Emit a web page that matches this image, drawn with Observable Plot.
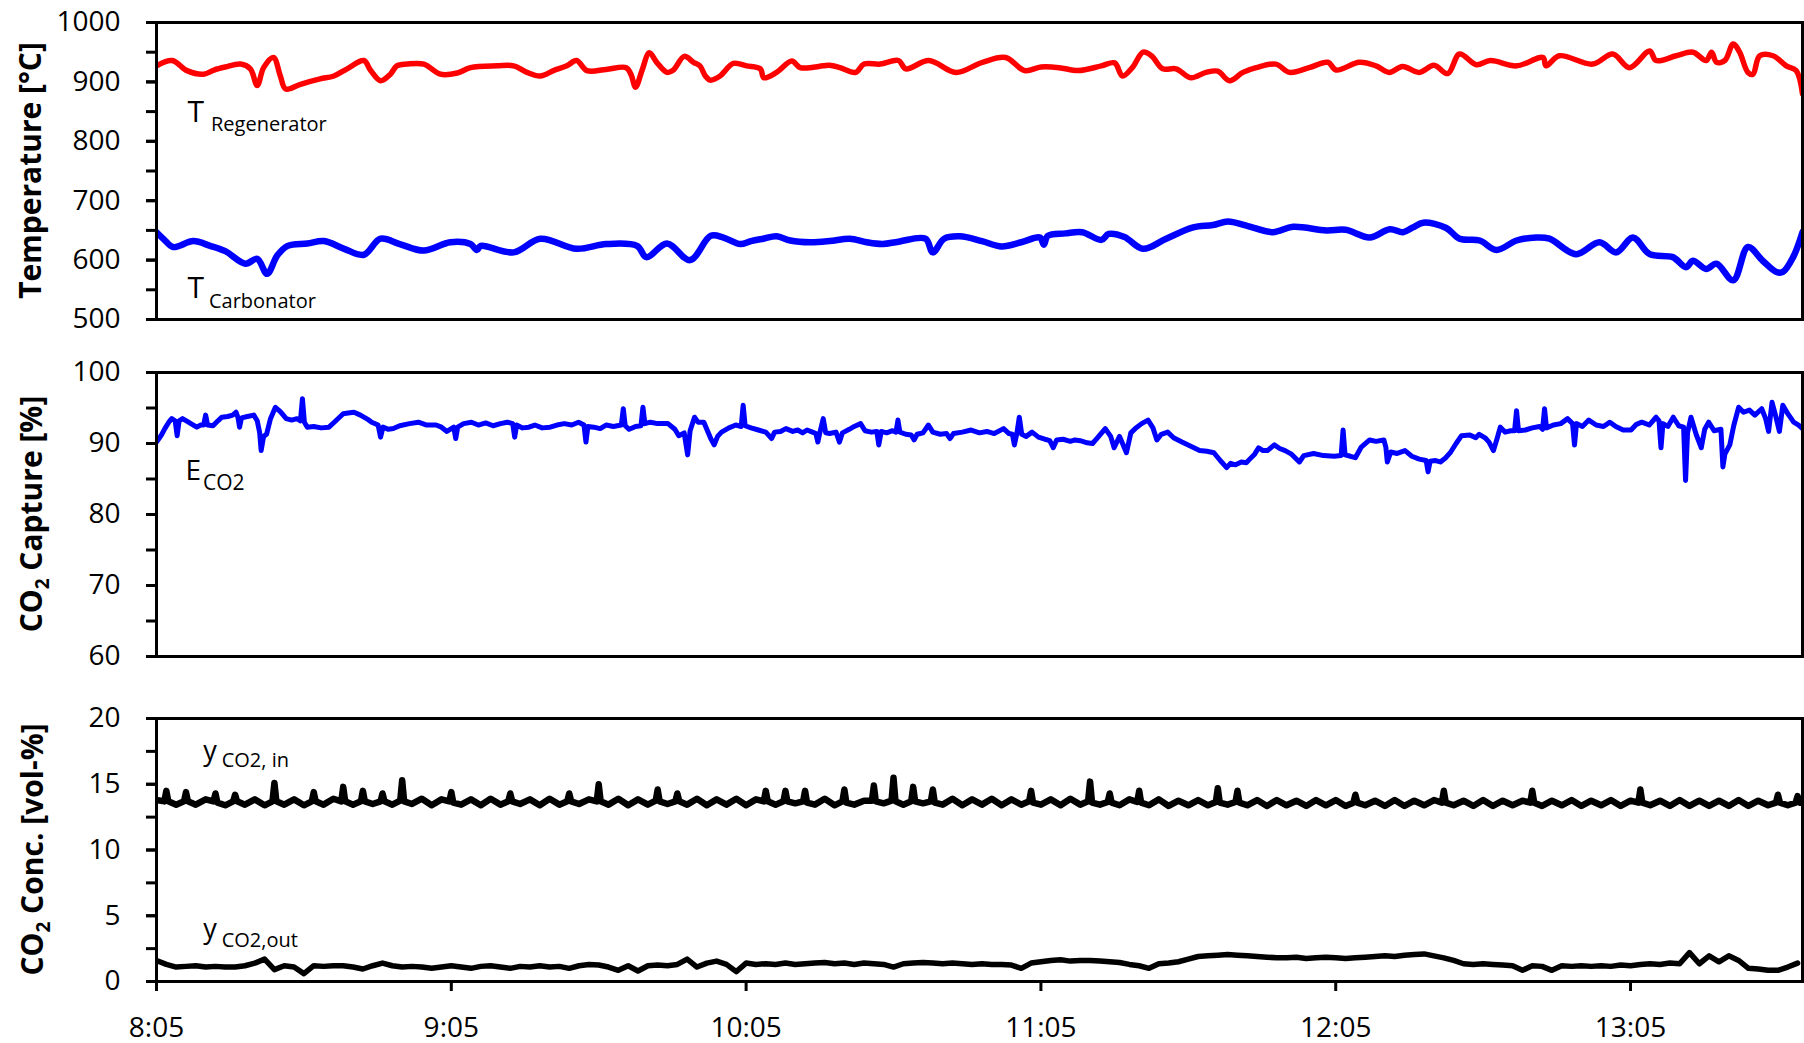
<!DOCTYPE html>
<html>
<head>
<meta charset="utf-8">
<script src="https://cdn.jsdelivr.net/npm/d3@7"></script>
<script src="https://cdn.jsdelivr.net/npm/@observablehq/plot@0.6"></script>
<style>
  body { margin: 0; background: #ffffff; }
  #chart { width: 1804px; }
  #chart svg { display: block; }
</style>
</head>
<body>
<div id="chart"></div>
<script>
// ---------- DATA (minutes after 8:05) ----------
const xDomainMin = [0, 335];
const timeTickMin = [0, 60, 120, 180, 240, 300];
const timeTickLabels = ["8:05", "9:05", "10:05", "11:05", "12:05", "13:05"];

// T Regenerator [°C]
const regenMin = [0,3.2,6.2,9.6,11.7,14,17.1,19.1,20.5,21.8,
  23.8,25.2,26.3,29.3,33.3,36.1,38.8,42.2,43.6,45.6,
  47.6,48.9,51,54.4,57.8,61.2,63.9,69.3,72.7,75.4,
  78.1,80.8,83.5,85.5,87.6,91.5,95.6,96.6,97.5,98.8,
  100.3,101.8,103.9,105.2,107.4,109.3,110.6,111.7,112.7,114.7,
  117.4,120.1,122.9,123.6,126.2,129.3,131,135.7,137,139.1,
  142.3,144,147.3,151,152.5,157.2,162.7,168.1,172.8,176.7,
  180,183.7,187.6,192.3,195,196.6,198.6,200.8,202.5,204.8,
  207.5,210.5,213.6,216,218.4,221.1,223.8,227.8,230.6,234.6,
  238.4,240.1,244.8,248.2,250.9,253.6,257,260,262.8,265.2,
  268.6,271.5,276.8,282.2,282.8,285.5,292.3,296.4,299.8,303.9,
  305.2,309.3,312.7,315.4,316.5,317.5,319.2,320.9,322.2,323.9,
  324.9,326.3,329,331.7,333.7,335];
const regenTemp = [927,936,919,913,920,925,930,922,894,924,
  941,910,888,896,905,910,922,936,919,902,
  913,927,930,930,913,915,924,927,927,916,
  910,919,927,936,919,921,924,912,891,919,
  949,933,916,920,943,933,927,910,903,910,
  931,927,922,907,916,935,924,927,928,924,
  916,930,930,936,922,936,916,933,941,919,
  925,924,919,927,932,910,924,950,944,922,
  922,907,916,918,902,916,924,930,916,924,
  933,920,933,927,916,926,916,928,914,947,
  929,936,927,941,927,944,930,947,924,952,
  936,944,950,936,950,933,936,964,950,916,
  913,944,944,927,919,880];

// T Carbonator [°C]
const carbMin = [0,1.5,3.4,7.5,10.9,14,18.1,20.5,22.5,24.6,
  26.7,30.7,34.1,38.2,42.2,45.6,49.5,54.4,59.8,63.9,
  65.2,66,72.7,78.1,85.5,91.5,97.8,99.7,103.9,108.6,
  112.8,115.4,118.8,121,123.5,126.2,129,133,137,141.1,
  144.5,147.8,151,156.5,158,160.3,163.5,168,172,176,
  179.8,180.6,181.4,185,188.4,192.3,193.8,197,200.8,205.5,
  211,215,218.1,221.8,227.2,231.3,238.1,242,246.9,251,
  253.7,255.7,257.8,262.5,265.2,269.3,272.7,276.8,280.8,283.5,
  288.9,293.7,297.1,300.5,303.9,308.6,311.3,312.7,315.4,317.5,
  320.9,323.9,326.9,329.7,331,333.1,335];
const carbTemp = [647,635,622,632,624,615,594,602,577,608,
  624,628,632,619,609,636,627,616,630,627,
  617,624,613,636,619,627,624,605,628,600,
  641,638,627,632,636,640,633,630,632,636,
  630,627,631,636,613,636,640,632,623,630,
  638,626,641,645,647,634,644,639,619,636,
  655,659,665,658,647,656,650,651,638,652,
  647,655,663,654,636,633,617,633,638,636,
  610,630,613,638,610,605,588,599,585,594,
  566,622,599,580,580,605,647];

// E CO2 capture [%]  as [minute, value]
const captureSeries = [
  [0,90.2],[1,91.2],[1.7,92.1],[2.5,93.0],[3.1,93.5],[3.8,93.2],[4.2,91.1],[4.6,93.2],[5.3,93.5],[6.5,93.0],
  [7.5,92.6],[8.2,92.3],[9,92.6],[9.6,92.6],[10,94.0],[10.4,92.6],[11.5,92.5],[12.5,93.2],[13.3,93.7],[14.5,93.8],
  [15.5,94.0],[16.2,94.4],[16.6,93.6],[16.9,92.3],[17.3,93.6],[18.5,93.8],[19.8,94.0],[20.5,93.2],[21,91.5],[21.3,89.0],
  [21.8,91.0],[22.4,91.3],[23.2,93.5],[24.2,95.1],[25.2,94.5],[26.4,93.5],[27.5,93.3],[28.6,93.5],[29.3,93.2],[29.7,96.3],
  [30.1,93.0],[30.7,92.3],[32,92.4],[33.5,92.2],[35.1,92.3],[36.5,93.2],[38,94.2],[39,94.3],[40.2,94.4],[41.5,94.0],
  [43,93.4],[43.8,93.0],[45.1,92.6],[45.6,90.9],[46.1,92.3],[47.2,92.0],[48.2,92.1],[49.5,92.5],[51.5,92.8],[53.3,93.0],
  [55,92.6],[56.9,92.6],[58,92.3],[59.1,91.7],[60.5,92.3],[60.9,90.7],[61.3,92.3],[62.5,92.8],[64.1,93.0],[65.5,92.6],
  [67,92.9],[68.5,92.5],[70,92.8],[71.4,93.0],[72.5,92.8],[72.9,90.9],[73.3,92.6],[74.5,92.2],[75.8,92.3],[77,92.6],
  [78.5,92.2],[80.1,92.3],[81.5,92.6],[83,92.8],[84.5,92.6],[85.9,93.0],[87,92.6],[87.4,90.2],[87.8,92.4],[89,92.3],
  [90.3,92.1],[91.5,92.6],[93,92.4],[94.6,92.6],[95,94.9],[95.4,92.5],[96.2,92.0],[97.5,92.4],[98.6,92.5],[99,95.1],
  [99.4,92.8],[100.5,93.0],[102,92.8],[104.1,92.8],[105.5,92.0],[106.3,91.1],[107.4,91.5],[108.1,88.4],[108.6,91.8],[109.5,93.7],
  [110.2,93.0],[111.4,93.0],[112.8,90.7],[113.5,89.8],[114.2,91.0],[115,91.6],[116.5,92.2],[117.9,92.6],[119,92.4],[119.4,95.4],
  [119.8,92.5],[121,92.2],[122.5,91.9],[124,91.6],[125.2,90.7],[125.8,91.6],[127,91.7],[128.1,92.1],[129.5,91.7],[130.5,91.9],
  [131.5,91.5],[132.4,91.9],[133.5,91.6],[134.2,91.4],[134.6,90.2],[135,91.5],[135.7,93.5],[136.2,91.5],[137,91.4],[138.3,91.6],
  [139,90.2],[139.6,91.5],[141,92.0],[142,92.4],[143.3,92.8],[144.2,91.8],[145.5,91.6],[146.6,91.7],[147,89.8],[147.5,91.7],
  [148.6,91.5],[149.8,91.8],[150.5,91.6],[150.9,93.3],[151.3,91.6],[152.5,91.3],[153.6,91.2],[154.2,90.5],[154.8,91.3],[156,91.5],
  [157.1,92.6],[158,91.6],[159.5,91.3],[160.8,91.4],[161.5,90.7],[162.2,91.4],[164,91.6],[165.8,91.9],[167.5,91.5],[169,91.7],
  [170.5,91.4],[172.4,92.1],[173.5,91.4],[174.2,91.3],[174.6,89.8],[175.1,91.4],[175.6,93.7],[176.1,91.3],[177,91.0],[178.2,91.6],
  [179.5,90.9],[180.8,90.6],[181.8,90.4],[182.5,89.4],[183.2,90.5],[184.5,90.6],[186,90.3],[186.9,90.5],[188,90.4],[189.4,90.1],
  [190.5,90.0],[191.5,90.8],[193.1,92.1],[194.2,91.0],[194.9,89.4],[196,91.0],[197.4,88.7],[198.3,91.5],[199.2,92.1],[200.5,92.8],
  [201.8,93.3],[202.8,92.2],[203.6,90.5],[204.5,91.3],[205.8,91.6],[207,90.8],[208.7,90.2],[210.5,89.6],[212.3,89.0],[213.8,88.9],
  [215.2,88.7],[216.5,87.6],[217.8,86.6],[218.6,87.2],[219.6,87.0],[220.8,87.4],[221.8,87.3],[222.5,87.8],[223.5,88.5],[224.3,89.4],
  [225.2,89.0],[226.1,89.0],[227.5,89.8],[228.6,89.3],[229.7,89.0],[231,88.5],[232.6,87.4],[233.5,88.3],[235.5,88.6],[237.5,88.3],
  [239.7,88.2],[241.1,88.3],[241.5,91.9],[241.9,88.4],[243,88.2],[244,88.0],[245.2,89.5],[246.9,90.5],[248.2,90.3],[249.8,90.5],
  [250.2,89.5],[250.5,87.4],[251.2,88.8],[252.5,88.6],[254.1,89.0],[255.5,88.2],[257,87.8],[258.4,87.6],[258.8,86.0],[259.2,87.5],
  [260.3,87.6],[261.3,87.4],[262.4,88.0],[263.4,88.8],[264.5,90.0],[265.6,91.1],[267.3,91.2],[268.5,90.8],[269.2,91.3],[270.4,90.8],
  [271.2,90.2],[272.1,89.0],[272.8,90.6],[273.5,92.3],[274.5,91.6],[275.6,91.8],[276.4,91.8],[276.8,94.6],[277.2,91.8],[278.6,91.9],
  [280,92.2],[281.5,92.4],[282.1,92.0],[282.5,94.9],[282.9,92.2],[284.3,92.6],[285.8,92.8],[287.2,93.5],[288.2,92.8],[288.6,89.8],
  [289,92.8],[290.2,92.4],[291.5,93.3],[293,92.6],[294.5,92.4],[295.8,93.0],[297,92.4],[298.5,91.9],[300.1,91.9],[301.2,92.7],
  [302.3,93.0],[303.8,92.6],[305.2,93.7],[305.8,93.2],[306.2,89.4],[306.6,92.8],[307.6,92.4],[308.7,93.7],[309.8,92.5],[310.8,92.3],
  [311.2,84.8],[311.6,91.5],[312.3,93.7],[313.4,91.2],[314.4,89.4],[315.1,92.0],[315.9,93.0],[317,91.8],[318.4,92.0],[318.8,86.7],
  [319.2,88.5],[320.2,89.8],[321,92.5],[322,95.1],[323,94.4],[324.2,94.7],[325.3,94.0],[326.7,94.9],[327.5,93.5],[328.1,91.7],
  [328.8,95.8],[329.5,94.0],[330.3,91.7],[331,95.4],[332,94.2],[333.2,93.0],[334.2,92.6],[335,92.1]
];

// y CO2, in [vol-%]  as [minute, value]
const co2InSeries = [
  [0,13.8],[1.6,13.7],[2,14.5],[2.4,13.7],[4,13.45],[5.6,13.7],[6,14.4],[6.4,13.7],[8,13.45],[10,13.85],
  [11.6,13.7],[12,14.3],[12.4,13.6],[14,13.4],[15.6,13.7],[16,14.2],[16.4,13.7],[18,13.45],[20,13.85],[22,13.4],
  [23.6,13.7],[24,15.1],[24.4,13.7],[26,13.45],[28,13.85],[30,13.4],[31.6,13.7],[32,14.4],[32.4,13.7],[34,13.45],
  [36,13.9],[37.6,13.7],[38,14.8],[38.4,13.7],[40,13.45],[41.6,13.7],[42,14.5],[42.4,13.7],[44,13.5],[45.6,13.7],
  [46,14.3],[46.4,13.7],[48,13.45],[49.6,13.75],[50,15.3],[50.4,13.7],[52,13.5],[54,13.9],[56,13.4],[58,13.85],
  [59.6,13.7],[60,14.4],[60.4,13.6],[62,13.45],[64,13.85],[66,13.4],[68,13.9],[70,13.45],[71.6,13.7],[72,14.3],
  [72.4,13.7],[74,13.5],[76,13.85],[78,13.4],[80,13.9],[82,13.45],[83.6,13.7],[84,14.3],[84.4,13.7],[86,13.5],
  [88,13.85],[89.6,13.7],[90,15.0],[90.4,13.7],[92,13.45],[94,13.9],[96,13.4],[98,13.85],[100,13.45],[101.6,13.75],
  [102,14.6],[102.4,13.7],[104,13.5],[105.6,13.7],[106,14.3],[106.4,13.7],[108,13.45],[110,13.9],[112,13.4],[114,13.85],
  [116,13.45],[118,13.9],[120,13.4],[122,13.85],[123.6,13.7],[124,14.5],[124.4,13.7],[126,13.45],[127.6,13.7],[128,14.5],
  [128.4,13.7],[130,13.55],[131.6,13.7],[132,14.5],[132.4,13.6],[134,13.45],[136,13.9],[138,13.4],[139.6,13.7],[140,14.6],
  [140.4,13.6],[142,13.45],[144,13.75],[145.6,13.75],[146,14.9],[146.4,13.7],[148,13.55],[149.6,13.75],[150,15.5],[150.4,13.7],
  [152,13.45],[153.6,13.7],[154,14.8],[154.4,13.7],[156,13.55],[157.6,13.7],[158,14.6],[158.4,13.6],[160,13.45],[162,13.9],
  [164,13.4],[166,13.85],[168,13.45],[170,13.9],[172,13.4],[174,13.85],[176,13.45],[177.6,13.7],[178,14.5],[178.4,13.6],
  [180,13.45],[182,13.85],[184,13.4],[186,13.9],[188,13.45],[189.6,13.7],[190,15.2],[190.4,13.6],[192,13.45],[193.6,13.65],
  [194,14.3],[194.4,13.6],[196,13.4],[198,13.85],[199.6,13.65],[200,14.5],[200.4,13.6],[202,13.4],[204,13.85],[206,13.35],
  [208,13.75],[210,13.4],[212,13.8],[214,13.4],[215.6,13.65],[216,14.7],[216.4,13.6],[218,13.45],[219.6,13.65],[220,14.5],
  [220.4,13.6],[222,13.4],[224,13.8],[226,13.35],[228,13.8],[230,13.4],[232,13.75],[234,13.35],[236,13.8],[238,13.4],
  [240,13.8],[242,13.35],[243.6,13.6],[244,14.2],[244.4,13.6],[246,13.4],[248,13.75],[250,13.35],[252,13.8],[254,13.35],
  [256,13.75],[258,13.4],[260,13.8],[261.6,13.6],[262,14.5],[262.4,13.6],[264,13.4],[266,13.75],[268,13.35],[270,13.8],
  [272,13.35],[274,13.75],[276,13.4],[278,13.75],[279.6,13.6],[280,14.5],[280.4,13.6],[282,13.35],[284,13.75],[286,13.4],
  [288,13.8],[290,13.35],[292,13.75],[294,13.4],[296,13.8],[298,13.35],[300,13.75],[301.6,13.6],[302,14.6],[302.4,13.6],
  [304,13.4],[306,13.75],[308,13.35],[310,13.8],[312,13.35],[314,13.75],[316,13.35],[318,13.75],[320,13.35],[322,13.8],
  [324,13.35],[326,13.75],[328,13.4],[329.6,13.6],[330,14.2],[330.4,13.6],[332,13.4],[333.6,13.6],[334,14.1],[334.4,13.6],
  [335,13.6]
];

// y CO2, out [vol-%] on a 2-minute grid
const concMin = [0,2,4,6,8,10,12,14,16,18,20,22,24,26,28,30,32,34,36,38,
  40,42,44,46,48,50,52,54,56,58,60,62,64,66,68,70,72,74,76,78,
  80,82,84,86,88,90,92,94,96,98,100,102,104,106,108,110,112,114,116,118,
  120,122,124,126,128,130,132,134,136,138,140,142,144,146,148,150,152,154,156,158,
  160,162,164,166,168,170,172,174,176,178,180,182,184,186,188,190,192,194,196,198,
  200,202,204,206,208,210,212,214,216,218,220,222,224,226,228,230,232,234,236,238,
  240,242,244,246,248,250,252,254,256,258,260,262,264,266,268,270,272,274,276,278,
  280,282,284,286,288,290,292,294,296,298,300,302,304,306,308,310,312,314,316,318,
  320,322,324,326,328,330,332,334];
const co2Out = [1.6,1.3,1.1,1.15,1.2,1.1,1.15,1.1,1.1,1.2,
  1.4,1.7,0.9,1.2,1.1,0.6,1.2,1.15,1.2,1.2,
  1.1,0.95,1.2,1.4,1.2,1.1,1.15,1.1,1.0,1.1,
  1.2,1.1,1.0,1.15,1.2,1.1,1.0,1.15,1.1,1.2,
  1.1,1.15,1.0,1.2,1.3,1.25,1.1,0.85,1.2,0.8,
  1.2,1.25,1.2,1.3,1.7,1.1,1.4,1.55,1.3,0.75,
  1.4,1.3,1.35,1.3,1.4,1.3,1.35,1.4,1.45,1.35,
  1.4,1.3,1.4,1.35,1.3,1.1,1.35,1.4,1.45,1.4,
  1.35,1.4,1.35,1.3,1.35,1.3,1.3,1.25,1.0,1.4,
  1.5,1.6,1.65,1.55,1.6,1.6,1.55,1.5,1.45,1.3,
  1.2,1.0,1.35,1.4,1.5,1.7,1.9,1.95,2.0,2.05,
  2.0,1.95,1.9,1.85,1.8,1.8,1.85,1.75,1.8,1.85,
  1.8,1.75,1.8,1.85,1.9,1.95,1.9,2.0,2.05,2.1,
  1.95,1.8,1.6,1.35,1.3,1.35,1.3,1.25,1.2,0.85,
  1.2,1.15,0.85,1.2,1.15,1.2,1.15,1.2,1.15,1.25,
  1.2,1.3,1.35,1.3,1.4,1.35,2.2,1.35,1.95,1.5,
  1.95,1.6,1.0,0.95,0.85,0.85,1.1,1.4];

// axis ticks
const tempTicksMajor = [500, 600, 700, 800, 900, 1000];
const tempTicksMinor = [500, 550, 600, 650, 700, 750, 800, 850, 900, 950, 1000];
const captureTicksMajor = [60, 70, 80, 90, 100];
const captureTicksMinor = [60, 65, 70, 75, 80, 85, 90, 95, 100];
const concTicksMajor = [0, 5, 10, 15, 20];
const concTicksMinor = [0, 2.5, 5, 7.5, 10, 12.5, 15, 17.5, 20];

// ---------- RENDERING ----------
const FONT = "'Open Sans', sans-serif";
const chart = document.getElementById("chart");

function yAxes(minor, major) {
  return [
    Plot.axisY({ticks: minor, tickSize: 10, strokeWidth: 3, fill: "none", label: null}),
    Plot.axisY({ticks: major, tickSize: 10, tickPadding: 26, strokeWidth: 3,
      fontSize: 28, fill: "black", label: null, tickFormat: d => String(d)})
  ];
}

function makePanel({height, marginTop, marginBottom, yDomain, minor, major, lines, xAxis}) {
  const marks = [
    ...lines,
    Plot.frame({stroke: "black", strokeWidth: 3}),
    ...yAxes(minor, major)
  ];
  if (xAxis) {
    marks.push(Plot.axisX({ticks: timeTickMin, tickSize: 10, tickPadding: 26, strokeWidth: 3,
      fontSize: 28, fill: "black", label: null,
      tickFormat: d => timeTickLabels[timeTickMin.indexOf(d)]}));
  }
  return Plot.plot({
    width: 1804, height, marginTop, marginBottom, marginLeft: 156, marginRight: 2,
    style: {fontFamily: FONT, background: "white", color: "black", overflow: "visible"},
    x: xAxis ? {domain: xDomainMin} : {domain: xDomainMin, axis: null},
    y: {domain: yDomain, label: null},
    marks
  });
}

function lineXY(xs, ys, color, width, curve = "linear") {
  return Plot.line(ys, {x: xs, y: ys, stroke: color, strokeWidth: width, curve,
    strokeLinejoin: "round", strokeLinecap: "round", clip: true});
}
function linePairs(pairs, color, width) {
  return Plot.line(pairs, {x: d => d[0], y: d => d[1], stroke: color, strokeWidth: width,
    strokeLinejoin: "round", strokeLinecap: "round", clip: true});
}

function addYTitle(svg, x, parts) {
  const ys = svg.scale("y");
  const cy = (ys.range[0] + ys.range[1]) / 2;
  const t = d3.select(svg).append("text")
    .attr("transform", `translate(${x},${cy}) rotate(-90)`)
    .attr("text-anchor", "middle")
    .attr("font-family", FONT).attr("font-weight", "bold")
    .attr("font-size", 30).attr("fill", "black");
  let inSub = false;
  for (const p of parts) {
    const ts = t.append("tspan").text(p.text);
    if (p.sub) { ts.attr("font-size", 19).attr("dy", 7); inSub = true; }
    else if (inSub) { ts.attr("dy", -7); inSub = false; }
  }
}

function addSeriesLabel(svg, a) {
  const x = svg.scale("x").apply(a.t), y = svg.scale("y").apply(a.v);
  const t = d3.select(svg).append("text")
    .attr("x", x).attr("y", y).attr("text-anchor", "start")
    .attr("font-family", FONT).attr("font-size", a.mainSize).attr("fill", "black");
  t.append("tspan").text(a.main);
  t.append("tspan").attr("dx", a.dx).attr("dy", a.dy).attr("font-size", a.subSize).text(a.sub);
}

// Panel 1: temperatures
const p1 = makePanel({
  height: 345, marginTop: 22, marginBottom: 26, yDomain: [500, 1000],
  minor: tempTicksMinor, major: tempTicksMajor,
  lines: [lineXY(regenMin, regenTemp, "#ff0000", 5.5, "catmull-rom"),
          lineXY(carbMin, carbTemp, "#0000ff", 6.5, "catmull-rom")]
});
chart.appendChild(p1);
addYTitle(p1, 41, [{text: "Temperature [°C]"}]);
addSeriesLabel(p1, {t: 6.4, v: 831, main: "T", sub: "Regenerator", mainSize: 30, subSize: 20, dx: 7, dy: 9});
addSeriesLabel(p1, {t: 6.4, v: 535, main: "T", sub: "Carbonator", mainSize: 30, subSize: 20, dx: 5, dy: 10});

// Panel 2: capture efficiency
const p2 = makePanel({
  height: 326, marginTop: 27, marginBottom: 15, yDomain: [60, 100],
  minor: captureTicksMinor, major: captureTicksMajor,
  lines: [linePairs(captureSeries, "#0000ff", 5)]
});
chart.appendChild(p2);
addYTitle(p2, 42, [{text: "CO"}, {text: "2", sub: true}, {text: " Capture [%]"}]);
addSeriesLabel(p2, {t: 6.0, v: 84.8, main: "E", sub: "CO2", mainSize: 28, subSize: 21, dx: 2, dy: 10});

// Panel 3: CO2 concentrations
const p3 = makePanel({
  height: 372, marginTop: 47, marginBottom: 62, yDomain: [0, 20],
  minor: concTicksMinor, major: concTicksMajor, xAxis: true,
  lines: [linePairs(co2InSeries, "#000000", 6.5), lineXY(concMin, co2Out, "#000000", 5.5)]
});
chart.appendChild(p3);
addYTitle(p3, 43, [{text: "CO"}, {text: "2", sub: true}, {text: " Conc. [vol-%]"}]);
addSeriesLabel(p3, {t: 9.6, v: 16.8, main: "y", sub: "CO2, in", mainSize: 27, subSize: 20, dx: 5, dy: 7});
addSeriesLabel(p3, {t: 9.6, v: 3.27, main: "y", sub: "CO2,out", mainSize: 27, subSize: 20, dx: 5, dy: 9});
</script>
</body>
</html>
